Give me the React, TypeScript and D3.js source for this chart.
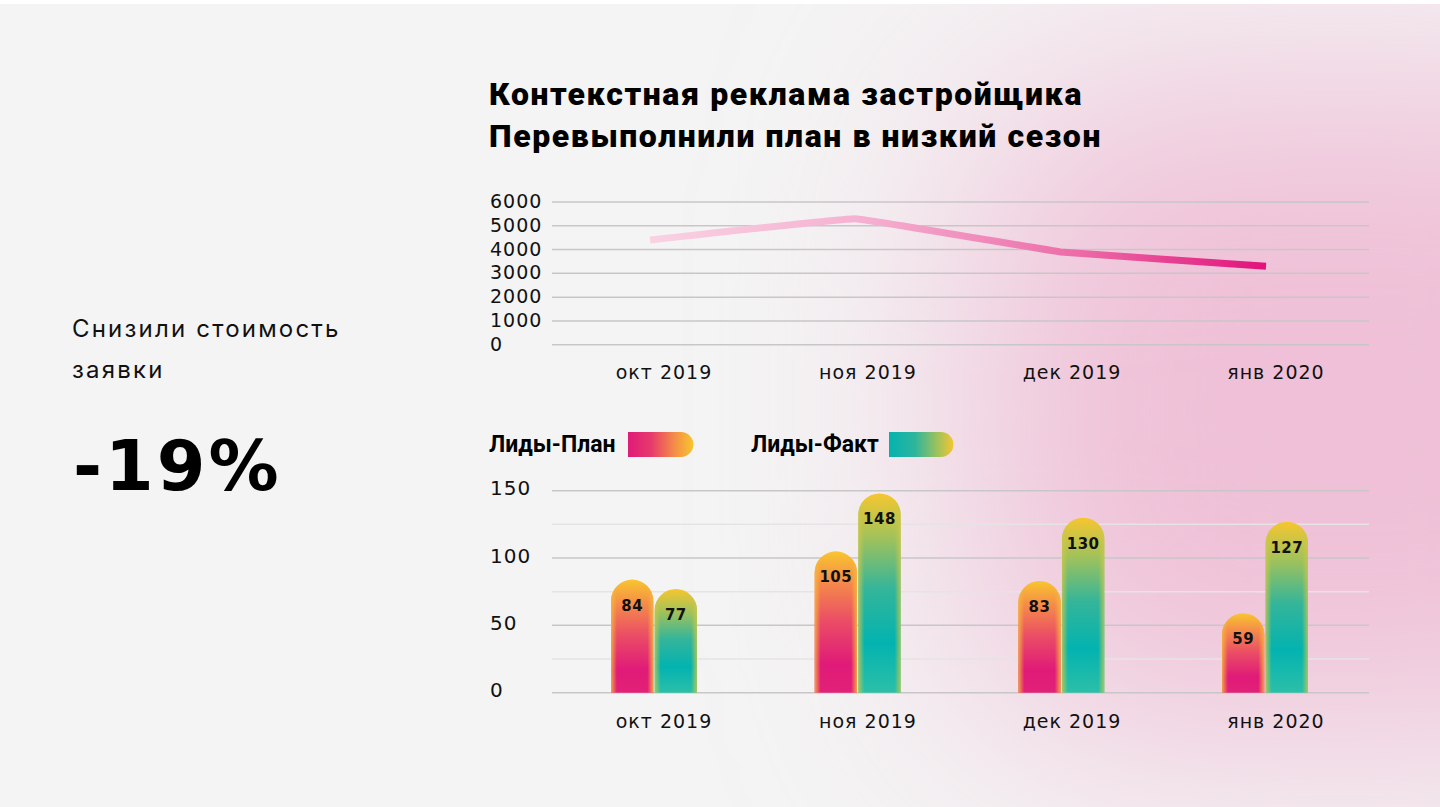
import React from "react";
import * as d3 from "d3";

// данные
const months = ["окт 2019", "ноя 2019", "дек 2019", "янв 2020"];
const costValues = [4400, 5300, 3900, 3300];
const costTicks = [0, 1000, 2000, 3000, 4000, 5000, 6000];
const leadsPlan = [84, 105, 83, 59];
const leadsFact = [77, 148, 130, 127];
const leadTicks = [0, 50, 100, 150];
const leadGrid = [0, 25, 50, 75, 100, 125, 150];
const seriesNames = ["Лиды-План", "Лиды-Факт"];

const W = 1440;
const H = 807;
const gridX0 = 552;
const gridX1 = 1369;
const axisFont = "'DejaVu Sans', sans-serif";

export default function App() {
  // line chart scales
  const yCost = d3.scaleLinear().domain([0, 6000]).range([344.7, 202]);
  const xLine = d3.scalePoint().domain(months).range([650, 1266]);
  const xLabel = d3.scalePoint().domain(months).range([664, 1276]);

  const line = d3
    .line<number>()
    .x((_, i) => xLine(months[i]) as number)
    .y((d) => yCost(d))
    .curve(d3.curveCardinal.tension(0.85));

  // bar chart scales
  const yLeads = d3.scaleLinear().domain([0, 150]).range([692.7, 490.7]);
  const xGroup = d3.scalePoint().domain(months).range([654, 1265]);
  const xInner = d3.scaleBand().domain(["plan", "fact"]).range([-43, 43]).paddingInner(0.03);
  const bw = xInner.bandwidth();

  const pill = (x: number, top: number, bottom: number, w: number) => {
    const r = w / 2;
    const p = d3.path();
    p.moveTo(x, bottom);
    p.lineTo(x, top + r);
    p.arc(x + r, top + r, r, Math.PI, 0);
    p.lineTo(x + w, bottom);
    p.closePath();
    return p.toString();
  };

  const bars = months.flatMap((m, i) => [
    { m, key: "plan", v: leadsPlan[i] },
    { m, key: "fact", v: leadsFact[i] },
  ]);

  return (
    <svg width={W} height={H} style={{ position: "absolute", left: 0, top: 0, display: "block" }}>
      <defs>
        <filter id="soft" filterUnits="userSpaceOnUse" x={-200} y={-400} width={2200} height={1600}>
          <feGaussianBlur stdDeviation={120} />
        </filter>
        <linearGradient id="lineGrad" gradientUnits="userSpaceOnUse" x1={650} x2={1266} y1={0} y2={0}>
          <stop offset="0" stopColor="#f9d2e3" />
          <stop offset="0.35" stopColor="#f5b0d1" />
          <stop offset="0.7" stopColor="#ec6aa7" />
          <stop offset="1" stopColor="#e1127a" />
        </linearGradient>
        <linearGradient id="planV" x1="0" x2="0" y1="0" y2="1">
          <stop offset="0" stopColor="#f8c62f" />
          <stop offset="0.22" stopColor="#f58a4a" />
          <stop offset="0.5" stopColor="#ea4c66" />
          <stop offset="0.8" stopColor="#e01a78" />
          <stop offset="1" stopColor="#e22177" />
        </linearGradient>
        <linearGradient id="factV" x1="0" x2="0" y1="0" y2="1">
          <stop offset="0" stopColor="#f6c62f" />
          <stop offset="0.22" stopColor="#a2c25a" />
          <stop offset="0.48" stopColor="#34b59a" />
          <stop offset="0.75" stopColor="#03b3b0" />
          <stop offset="1" stopColor="#2cbfa8" />
        </linearGradient>
        <linearGradient id="edgeH" x1="0" x2="1" y1="0" y2="0">
          <stop offset="0" stopColor="#f7b83a" stopOpacity="0.85" />
          <stop offset="0.14" stopColor="#f7b83a" stopOpacity="0" />
          <stop offset="0.86" stopColor="#f7b83a" stopOpacity="0" />
          <stop offset="1" stopColor="#f7b83a" stopOpacity="0.85" />
        </linearGradient>
        <linearGradient id="edgeF" x1="0" x2="1" y1="0" y2="0">
          <stop offset="0" stopColor="#c9c84a" stopOpacity="0.8" />
          <stop offset="0.14" stopColor="#c9c84a" stopOpacity="0" />
          <stop offset="0.86" stopColor="#c9c84a" stopOpacity="0" />
          <stop offset="1" stopColor="#c9c84a" stopOpacity="0.8" />
        </linearGradient>
        <linearGradient id="legPlan" x1="0" x2="1" y1="0" y2="0">
          <stop offset="0" stopColor="#e01a78" />
          <stop offset="0.35" stopColor="#e63a6c" />
          <stop offset="0.7" stopColor="#f48b48" />
          <stop offset="1" stopColor="#f8c62f" />
        </linearGradient>
        <linearGradient id="legFact" x1="0" x2="1" y1="0" y2="0">
          <stop offset="0" stopColor="#03b3b0" />
          <stop offset="0.4" stopColor="#2db59c" />
          <stop offset="0.75" stopColor="#9fc25c" />
          <stop offset="1" stopColor="#f6c62f" />
        </linearGradient>
      </defs>

      {/* фон */}
      <rect x={0} y={0} width={W} height={H} fill="#f4f4f4" />
      <rect x={970} y={80} width={740} height={660} rx={140} fill="#efc0d7" filter="url(#soft)" />
      <rect x={0} y={0} width={W} height={4} fill="#ffffff" />

      {/* левая подпись */}
      <text x={72} y={337} fontFamily="Inter, sans-serif" fontSize={24} letterSpacing={2.2} fill="#111">Снизили стоимость</text>
      <text x={72} y={378} fontFamily="Inter, sans-serif" fontSize={24} letterSpacing={2.2} fill="#111">заявки</text>
      <text x={73} y={490} fontFamily="'DejaVu Sans', sans-serif" fontWeight={700} fontSize={70} letterSpacing={3} fill="#000">-19%</text>

      {/* заголовок */}
      <text x={489} y={105} fontFamily="Roboto, sans-serif" fontWeight={900} fontSize={32} letterSpacing={1.6} fill="#000">
        Контекстная реклама застройщика
      </text>
      <text x={489} y={147} fontFamily="Roboto, sans-serif" fontWeight={900} fontSize={32} letterSpacing={1.6} fill="#000">
        Перевыполнили план в низкий сезон
      </text>

      {/* линейный график */}
      <g>
        {costTicks.map((t) => (
          <g key={t}>
            <line x1={gridX0} x2={gridX1} y1={yCost(t)} y2={yCost(t)} stroke="#c9c6c8" strokeWidth={1.5} />
            <text x={490} y={yCost(t) - 1} dominantBaseline="central" fontFamily={axisFont} fontSize={19} letterSpacing={1} fill="#111">
              {t}
            </text>
          </g>
        ))}
        <path d={line(costValues) || ""} fill="none" stroke="url(#lineGrad)" strokeWidth={7} strokeLinecap="butt" strokeLinejoin="round" />
        {months.map((m) => (
          <text key={m} x={xLabel(m)} y={379} textAnchor="middle" fontFamily={axisFont} fontSize={19} letterSpacing={1} fill="#111">
            {m}
          </text>
        ))}
      </g>

      {/* легенда */}
      <g>
        <text x={489} y={452} fontFamily="Roboto, sans-serif" fontWeight={700} fontSize={23} fill="#000">{seriesNames[0]}</text>
        <path d="M628,432 H681 A12.5,12.5 0 0 1 681,457 H628 Z" fill="url(#legPlan)" />
        <text x={751} y={452} fontFamily="Roboto, sans-serif" fontWeight={700} fontSize={23} fill="#000">{seriesNames[1]}</text>
        <path d="M889,432 H941 A12.5,12.5 0 0 1 941,457 H889 Z" fill="url(#legFact)" />
      </g>

      {/* столбчатый график */}
      <g>
        {leadGrid.map((t) => (
          <line key={t} x1={gridX0} x2={gridX1} y1={yLeads(t)} y2={yLeads(t)}
            stroke={t % 50 === 0 ? "#c9c6c8" : "#e6e3e5"} strokeWidth={1.5} />
        ))}
        {leadTicks.map((t) => (
          <text key={t} x={490} y={yLeads(t) - 2.5} dominantBaseline="central" fontFamily={axisFont} fontSize={20} letterSpacing={1} fill="#111">
            {t}
          </text>
        ))}
        {bars.map((b) => {
          const x = (xGroup(b.m) as number) + (xInner(b.key) as number);
          const top = yLeads(b.v);
          const d = pill(x, top, yLeads(0), bw);
          return (
            <g key={b.m + b.key}>
              <path d={d} fill={b.key === "plan" ? "url(#planV)" : "url(#factV)"} />
              <path d={d} fill={b.key === "plan" ? "url(#edgeH)" : "url(#edgeF)"} />
              <text x={x + bw / 2} y={top + 31} textAnchor="middle" fontFamily="'DejaVu Sans', sans-serif"
                fontWeight={700} fontSize={15} letterSpacing={0.5} fill="#111">
                {b.v}
              </text>
            </g>
          );
        })}
        {months.map((m) => (
          <text key={m} x={xLabel(m)} y={728} textAnchor="middle" fontFamily={axisFont} fontSize={19} letterSpacing={1} fill="#111">
            {m}
          </text>
        ))}
      </g>
    </svg>
  );
}
